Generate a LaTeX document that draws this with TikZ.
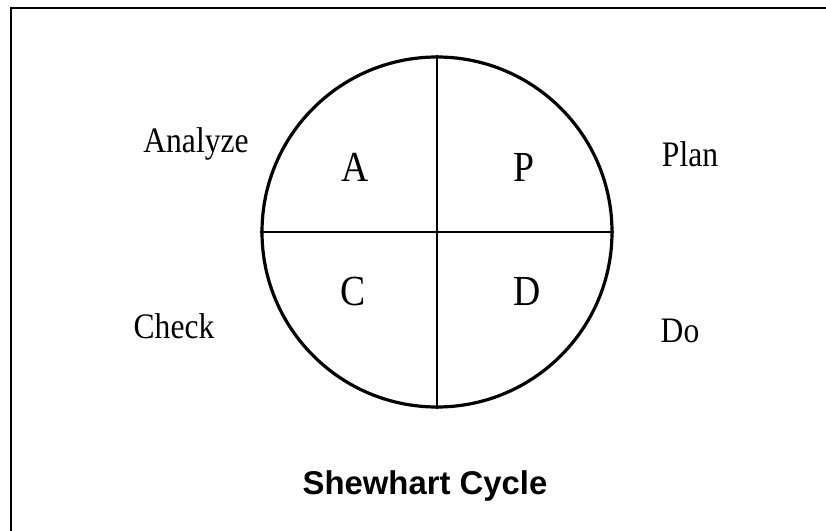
\documentclass[tikz,border=0pt]{standalone}
\usepackage{fontspec}
\usepackage{tikz}
\usetikzlibrary{positioning,calc}
\newfontfamily\phasefont[FakeStretch=0.88]{Liberation Serif}
\newfontfamily\titlefont{Liberation Sans}
\tikzset{
  letter/.style={anchor=base, inner sep=0pt, font=\phasefont\fontsize{43}{43}\selectfont},
  word/.style={anchor=base, inner sep=0pt, font=\phasefont\fontsize{36}{36}\selectfont},
  split/.style={line width=2.8bp},
}

\begin{document}
\begin{tikzpicture}[x=1bp,y=-1bp]
  \useasboundingbox (0,0) rectangle (826,531);
  \coordinate (corner) at (11,8);
  \draw[line width=2.2bp] (corner |- 0,531) -- (corner) -- (corner -| 826,0);
  % the cycle
  \node[circle, draw, line width=3.2bp, minimum size=350bp, inner sep=0pt] (cyc) at (437,232) {};
  \draw[split] (cyc.north) -- (cyc.south);
  \draw[split] (cyc.west) -- (cyc.east);
  % quadrant letters
  \node[letter] (qa) at (355,182) {A};
  \node[letter] (qp) at (524,182) {P};
  \node[letter] (qc) at (353,306) {C};
  \node[letter] (qd) at (527,306) {D};
  % phase names
  \node[word] (analyze) at (196,153) {Analyze};
  \node[word] (plan) at (690,167) {Plan};
  \node[word] (check) at (174,338) {Check};
  \node[word] (do) at (680,342) {Do};
  \node[anchor=base, inner sep=0pt, font=\titlefont\bfseries\fontsize{33}{33}\selectfont] (title) at (425,494) {Shewhart Cycle};
\end{tikzpicture}
\end{document}
